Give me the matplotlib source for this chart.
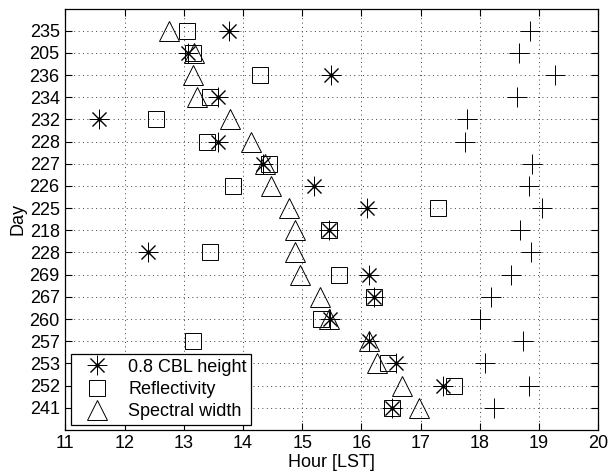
import numpy as np
import matplotlib.pyplot as plt
from matplotlib.lines import Line2D

plt.rcParams['font.family'] = ['Liberation Sans', 'DejaVu Sans']

# rows from top to bottom
days = ['235', '205', '236', '234', '232', '228', '227', '226', '225',
        '218', '228', '269', '267', '260', '257', '253', '252', '241']

cbl = [13.76, 13.07, 15.49, 13.58, 11.57, 13.58, 14.34, 15.20, 16.10,
       15.45, 12.39, 16.13, 16.22, 15.47, 16.13, 16.58, 17.38, 16.52]
refl = [13.05, 13.15, 14.28, 13.45, 12.53, 13.39, 14.44, 13.83, 17.30,
        15.45, 13.44, 15.62, 16.22, 15.32, 13.15, 16.44, 17.56, 16.52]
spec = [12.75, 13.17, 13.16, 13.23, 13.78, 14.13, 14.38, 14.47, 14.77,
        14.88, 14.87, 14.96, 15.30, 15.45, 16.13, 16.26, 16.69, 16.97]
other = [18.84, 18.66, 19.27, 18.62, 17.78, 17.74, 18.88, 18.83, 19.05,
         18.67, 18.87, 18.52, 18.19, 18.00, 18.72, 18.08, 18.83, 18.23]

n = len(days)
y = np.arange(n, 0, -1)
fs = 13
mw = 0.7

fig = plt.figure(figsize=(6.1, 4.74), dpi=100)
ax = fig.add_axes([0.107, 0.093, 0.874, 0.889])

star = (8, 2, 0)
ax.plot(other, y, linestyle='none', marker='+', ms=14, mew=mw, color='k')
ax.plot(spec, y, linestyle='none', marker='^', ms=15, mew=mw,
        mfc='none', mec='k')
ax.plot(refl, y, linestyle='none', marker='s', ms=11, mew=mw,
        mfc='none', mec='k')
ax.plot(cbl, y, linestyle='none', marker=star, ms=14, mew=mw, color='k')
ax.plot(cbl, y, linestyle='none', marker='.', ms=4, color='k')

ax.set_xlim(11, 20)
ax.set_ylim(0, n + 1)
ax.set_xticks(np.arange(11, 21))
ax.set_yticks(y)
ax.set_yticklabels(days)
ax.tick_params(direction='in', top=True, right=True, labelsize=fs, length=5,
               width=0.8, pad=4)
ax.grid(True, linestyle=(0, (1, 3.5)), color='0.25', linewidth=0.7)
ax.set_axisbelow(True)
ax.set_xlabel('Hour [LST]', fontsize=fs, labelpad=1)
ax.set_ylabel('Day', fontsize=fs, labelpad=2)
for s in ax.spines.values():
    s.set_linewidth(0.9)

h_star = (Line2D([], [], linestyle='none', marker=star, ms=14, mew=mw, color='k'),
          Line2D([], [], linestyle='none', marker='.', ms=4, color='k'))
h_sq = Line2D([], [], linestyle='none', marker='s', ms=11, mew=mw, mfc='none', mec='k')
h_tri = Line2D([], [], linestyle='none', marker='^', ms=15, mew=mw, mfc='none', mec='k')
leg = ax.legend([h_star, h_sq, h_tri], ['0.8 CBL height', 'Reflectivity', 'Spectral width'],
                loc='lower left', bbox_to_anchor=(0.011, 0.012), fontsize=fs,
                fancybox=False, framealpha=1, edgecolor='k', borderpad=0.25,
                labelspacing=0.3, handlelength=2.4, handletextpad=0.5,
                borderaxespad=0)
leg.get_frame().set_linewidth(0.9)

fig.savefig('out.png', dpi=100)
